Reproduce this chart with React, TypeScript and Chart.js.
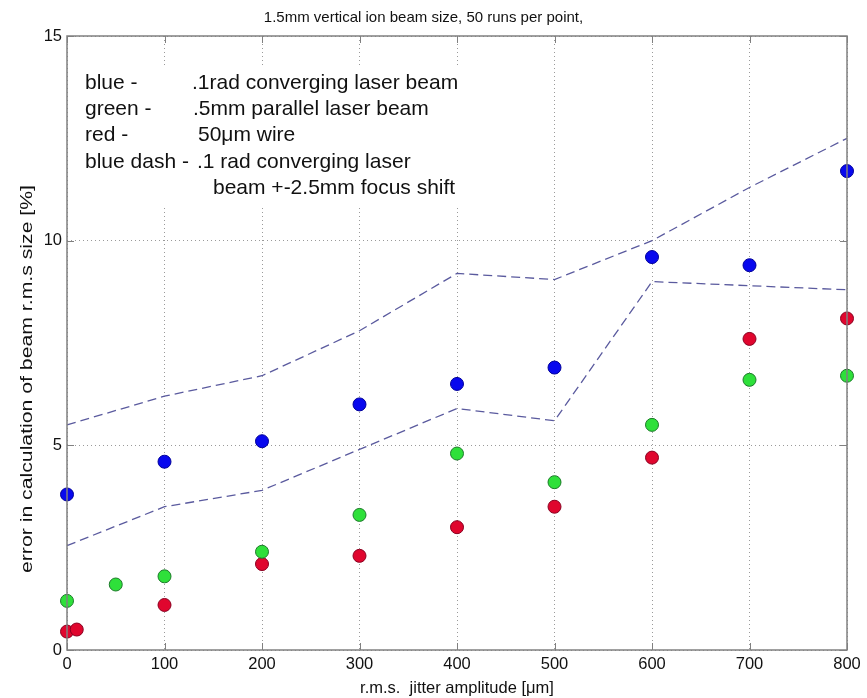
import React, { useEffect, useRef } from "react";
import { Chart, registerables } from "chart.js";

Chart.register(...registerables);

const titleText = "1.5mm vertical ion beam size, 50 runs per point,";
const xTitle = "r.m.s.  jitter amplitude [\u03bcm]";
const yTitle = "error in calculation of beam r.m.s size [%]";

const blueX = [0, 100, 200, 300, 400, 500, 600, 700, 800];
const blueY = [3.8, 4.6, 5.1, 6.0, 6.5, 6.9, 9.6, 9.4, 11.7];

const greenX = [0, 50, 100, 200, 300, 400, 500, 600, 700, 800];
const greenY = [1.2, 1.6, 1.8, 2.4, 3.3, 4.8, 4.1, 5.5, 6.6, 6.7];

const redX = [0, 10, 100, 200, 300, 400, 500, 600, 700, 800];
const redY = [0.45, 0.5, 1.1, 2.1, 2.3, 3.0, 3.5, 4.7, 7.6, 8.1];

const dashX = [0, 100, 200, 300, 400, 500, 600, 700, 800];
const dashUpper = [5.5, 6.2, 6.7, 7.8, 9.2, 9.05, 10.0, 11.3, 12.5];
const dashLower = [2.55, 3.5, 3.9, 4.9, 5.9, 5.6, 9.0, 8.9, 8.8];

const noteLeft = ["blue -", "green -", "red -", "blue dash -", ""];
const noteRight = [
  ".1rad converging laser beam",
  ".5mm parallel laser beam",
  "50\u03bcm wire",
  ".1 rad converging laser",
  "beam +-2.5mm focus shift",
];

const toPts = (xs: number[], ys: number[]) => xs.map((x, i) => ({ x, y: ys[i] }));

const FONT = "Arial, 'Liberation Sans', sans-serif";

const boxPlugin = {
  id: "boxAndNotes",
  beforeDatasetsDraw(chart: any) {
    const { ctx, chartArea } = chart;
    const { left, top } = chartArea;
    ctx.save();
    // white background behind the note text
    ctx.fillStyle = "#ffffff";
    ctx.fillRect(left + 8, top + 29, 400, 140);
    ctx.restore();
  },
  afterDraw(chart: any) {
    const { ctx, chartArea, scales } = chart;
    const { left, right, top, bottom } = chartArea;
    ctx.save();
    ctx.strokeStyle = "#808080";
    ctx.lineWidth = 1.5;
    ctx.setLineDash([]);
    ctx.strokeRect(left, top, right - left, bottom - top);
    // inward ticks
    ctx.lineWidth = 1;
    const tl = 7;
    scales.x.ticks.forEach((t: any) => {
      const px = Math.round(scales.x.getPixelForValue(t.value)) + 0.5;
      ctx.beginPath();
      ctx.moveTo(px, bottom);
      ctx.lineTo(px, bottom - tl);
      ctx.moveTo(px, top);
      ctx.lineTo(px, top + tl);
      ctx.stroke();
    });
    scales.y.ticks.forEach((t: any) => {
      const py = Math.round(scales.y.getPixelForValue(t.value)) + 0.5;
      ctx.beginPath();
      ctx.moveTo(left, py);
      ctx.lineTo(left + tl, py);
      ctx.moveTo(right, py);
      ctx.lineTo(right - tl, py);
      ctx.stroke();
    });
    // notes
    ctx.fillStyle = "#111111";
    ctx.font = "21px " + FONT;
    ctx.textBaseline = "middle";
    const lineH = 26.1;
    const y0 = top + 47.5;
    const rightX = [left + 125, left + 126, left + 131, left + 130, left + 146];
    noteLeft.forEach((s, i) => {
      ctx.fillText(s, left + 18, y0 + i * lineH);
      ctx.fillText(noteRight[i], rightX[i], y0 + i * lineH);
    });
    // y axis title (stretched along its length like the reference)
    ctx.save();
    ctx.font = "16px " + FONT;
    const w = ctx.measureText(yTitle).width;
    ctx.translate(28, 379);
    ctx.rotate(-Math.PI / 2);
    ctx.scale(388 / w, 1);
    ctx.textAlign = "center";
    ctx.fillText(yTitle, 0, 0);
    ctx.restore();
    ctx.restore();
  },
};

export default function App() {
  const ref = useRef<HTMLCanvasElement | null>(null);
  useEffect(() => {
    document.body.style.margin = "0";
    const c = ref.current!;
    const ptStyle = (fill: string, border: string) => ({
      showLine: false,
      pointRadius: 6.5,
      pointBackgroundColor: fill,
      pointBorderColor: border,
      pointBorderWidth: 1,
      backgroundColor: fill,
      borderColor: border,
    });
    const dashStyle = {
      showLine: true,
      pointRadius: 0,
      borderColor: "#5a5a9e",
      borderWidth: 1.3,
      borderDash: [9, 5],
      fill: false,
      tension: 0,
    };
    const chart = new Chart(c, {
      type: "scatter",
      data: {
        datasets: [
          { label: "upper", data: toPts(dashX, dashUpper), ...dashStyle },
          { label: "lower", data: toPts(dashX, dashLower), ...dashStyle },
          { label: "blue", data: toPts(blueX, blueY), ...ptStyle("#0808ee", "#00009a") },
          { label: "green", data: toPts(greenX, greenY), ...ptStyle("#2ee03a", "#1d7a2a") },
          { label: "red", data: toPts(redX, redY), ...ptStyle("#e0062e", "#8a0020") },
        ] as any,
      },
      options: {
        responsive: false,
        animation: false,
        clip: false as any,
        layout: { padding: { left: 0, right: 20, top: 0, bottom: 0 } },
        plugins: {
          legend: { display: false },
          tooltip: { enabled: false },
          title: {
            display: true,
            text: titleText,
            color: "#111111",
            font: { family: FONT, size: 15, weight: "normal" as any, lineHeight: 1 },
            padding: { top: 10, bottom: 11 },
          },
        },
        scales: {
          x: {
            type: "linear",
            min: 0,
            max: 800,
            ticks: {
              stepSize: 100,
              color: "#111111",
              font: { family: FONT, size: 16.5 },
              padding: 5,
            },
            grid: {
              color: "#9a9a9a",
              lineWidth: 1,
              drawTicks: false,
            },
            border: { display: false, dash: [1, 3] } as any,
            title: {
              display: true,
              text: xTitle,
              color: "#111111",
              font: { family: FONT, size: 16.5 },
              padding: { top: 0, bottom: 0 },
            },
            afterFit: (s: any) => {
              s.height = 48;
            },
          },
          y: {
            type: "linear",
            min: 0,
            max: 15,
            ticks: {
              stepSize: 5,
              color: "#111111",
              font: { family: FONT, size: 16.5 },
              padding: 5,
            },
            grid: {
              color: "#9a9a9a",
              lineWidth: 1,
              drawTicks: false,
            },
            border: { display: false, dash: [1, 3] } as any,
            title: { display: false, text: yTitle },
            afterFit: (s: any) => {
              s.width = 67;
            },
          },
        },
      },
      plugins: [boxPlugin],
    });
    return () => chart.destroy();
  }, []);
  return (
    <div style={{ position: "absolute", left: 0, top: 0, width: 867, height: 698, background: "#fff" }}>
      <canvas ref={ref} width={867} height={698} />
    </div>
  );
}
